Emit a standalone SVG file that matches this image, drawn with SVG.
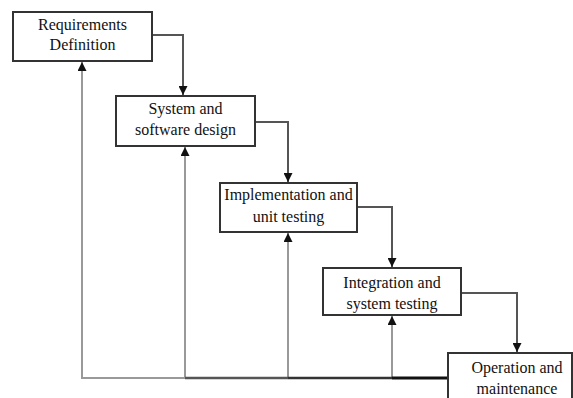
<svg xmlns="http://www.w3.org/2000/svg" width="573" height="398" viewBox="0 0 573 398">
<defs>
<marker id="ah" viewBox="0 0 10 10" refX="10" refY="5" markerWidth="9" markerHeight="9" orient="auto" markerUnits="userSpaceOnUse">
<path d="M0,0 L10,5 L0,10 z" fill="#111"/>
</marker>
<style>
.box{fill:#fff;stroke:#333;stroke-width:2}
.t{font-family:"Liberation Serif","Times New Roman",serif;font-size:16px;fill:#111;text-anchor:middle}
.c{fill:none;stroke:#555;stroke-width:2}
.fb{fill:none;stroke:#999;stroke-width:2}
</style>
</defs>
<rect width="573" height="398" fill="#fff"/>
<g id="connectors">
<polyline class="c" points="152,35 183,35 183,95" marker-end="url(#ah)"/>
<polyline class="c" points="255,122 288,122 288,182" marker-end="url(#ah)"/>
<polyline class="c" points="357,207 392,207 392,267" marker-end="url(#ah)"/>
<polyline class="c" points="461,293 517,293 517,352" marker-end="url(#ah)"/>
<line class="fb" x1="82" y1="378" x2="82" y2="62" marker-end="url(#ah)"/>
<line class="fb" x1="185" y1="378" x2="185" y2="147" marker-end="url(#ah)"/>
<line class="fb" x1="288" y1="378" x2="288" y2="233" marker-end="url(#ah)"/>
<line class="fb" x1="392" y1="378" x2="392" y2="316" marker-end="url(#ah)"/>
<line x1="81" y1="378" x2="185" y2="378" stroke="#999" stroke-width="2"/>
<line x1="185" y1="378" x2="288" y2="378" stroke="#555" stroke-width="2.5"/>
<line x1="288" y1="378" x2="392" y2="378" stroke="#333" stroke-width="2.5"/>
<line x1="392" y1="378" x2="448" y2="378" stroke="#111" stroke-width="3"/>
</g>
<g id="n1">
<rect class="box" x="13" y="12" width="139" height="49"/>
<text class="t" x="82.5" y="30">Requirements</text>
<text class="t" x="82.5" y="50">Definition</text>
</g>
<g id="n2">
<rect class="box" x="116" y="96" width="139" height="50"/>
<text class="t" x="185.5" y="114">System and</text>
<text class="t" x="185.5" y="135">software design</text>
</g>
<g id="n3">
<rect class="box" x="220" y="183" width="137" height="49"/>
<text class="t" x="288.5" y="200">Implementation and</text>
<text class="t" x="288.5" y="222">unit testing</text>
</g>
<g id="n4">
<rect class="box" x="323" y="268" width="138" height="47"/>
<text class="t" x="392" y="288">Integration and</text>
<text class="t" x="392" y="309">system testing</text>
</g>
<g id="n5">
<rect class="box" x="448" y="353" width="124" height="60"/>
<text class="t" x="517" y="373">Operation and</text>
<text class="t" x="517" y="394">maintenance</text>
</g>
</svg>
